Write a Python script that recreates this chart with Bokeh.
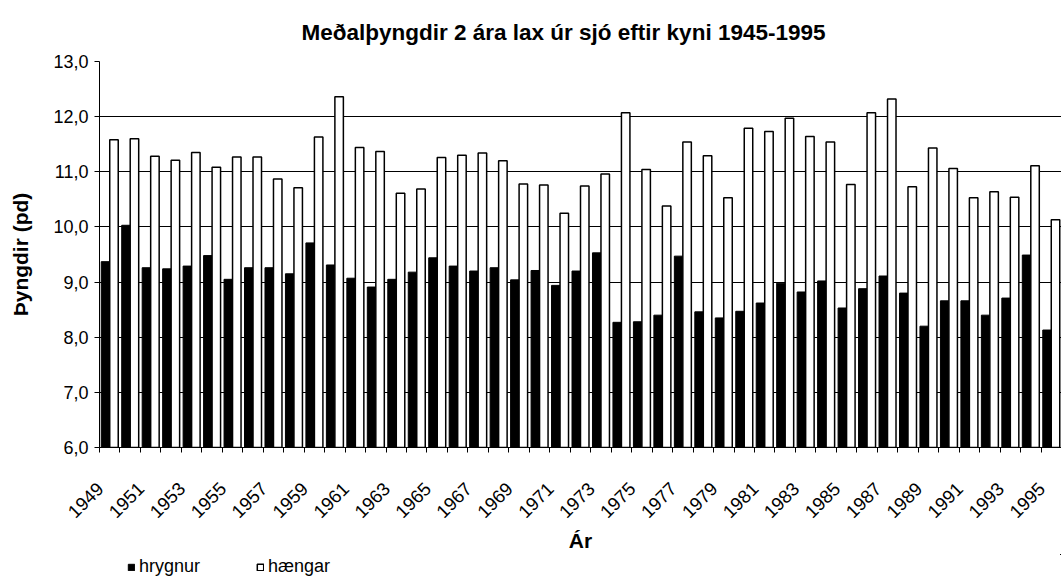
from bokeh.plotting import figure
from bokeh.layouts import column
from bokeh.models import (ColumnDataSource, FixedTicker, CustomJSTickFormatter, Legend,
                          LegendItem, Range1d, Title)
from bokeh.transform import dodge
from bokeh.embed import file_html
from bokeh.resources import INLINE

years = list(range(1949, 1996))
hrygnur = [9.37, 10.03, 9.26, 9.24, 9.29, 9.48, 9.05, 9.26, 9.26, 9.15, 9.71, 9.31,
           9.07, 8.91, 9.05, 9.18, 9.44, 9.29, 9.20, 9.26, 9.04, 9.21, 8.94, 9.20,
           9.53, 8.27, 8.28, 8.40, 9.47, 8.46, 8.35, 8.47, 8.62, 8.98, 8.82, 9.02,
           8.53, 8.88, 9.11, 8.80, 8.20, 8.66, 8.66, 8.40, 8.71, 9.49, 8.13]
haengar = [11.58, 11.60, 11.28, 11.21, 11.35, 11.08, 11.27, 11.27, 10.87, 10.71, 11.63, 12.36,
           11.44, 11.37, 10.61, 10.69, 11.26, 11.30, 11.34, 11.20, 10.78, 10.76, 10.25, 10.74,
           10.96, 12.07, 11.04, 10.38, 11.54, 11.29, 10.53, 11.79, 11.73, 11.97, 11.64, 11.54,
           10.77, 12.07, 12.32, 10.73, 11.43, 11.06, 10.53, 10.64, 10.54, 11.11, 10.13]
label_years = list(range(1949, 1996, 2))
y_ticks = [6, 7, 8, 9, 10, 11, 12, 13]
series_names = ["hrygnur", "hængar"]

FONT = "Liberation Sans"
LABEL_SHIFT = 0.47

src = ColumnDataSource(dict(year=years, hrygnur=hrygnur, haengar=haengar))

p = figure(frame_width=962, frame_height=386, output_backend="svg", toolbar_location=None,
           x_range=Range1d(years[0] - 0.5, years[-1] + 0.5), y_range=Range1d(6, 13),
           min_border_left=99, min_border_right=0, min_border_top=61, min_border_bottom=0)
p.outline_line_color = None
p.background_fill_color = "white"
p.border_fill_color = "white"

p.title = Title(text="Meðalþyngdir 2 ára lax úr sjó eftir kyni 1945-1995", align="left",
                text_font=FONT, text_font_size="22.5px", text_font_style="bold",
                text_color="black", standoff=33, offset=202)

bw = 0.415
r1 = p.vbar(x=dodge("year", -bw / 2, range=p.x_range), top="hrygnur", bottom=6, width=bw,
            source=src, fill_color="black", line_color="black", line_width=1)
r2 = p.vbar(x=dodge("year", bw / 2, range=p.x_range), top="haengar", bottom=6, width=bw,
            source=src, fill_color="white", line_color="black", line_width=1.5)

# grid
p.xgrid.grid_line_color = None
p.ygrid.grid_line_color = "black"
p.ygrid.grid_line_width = 1
p.ygrid.ticker = FixedTicker(ticks=y_ticks)
p.ygrid.level = "underlay"

# y axis
p.yaxis.ticker = FixedTicker(ticks=y_ticks)
p.yaxis.formatter = CustomJSTickFormatter(code="return tick.toFixed(1).replace('.', ',');")
p.yaxis.axis_label = "Þyngdir (pd)"
p.yaxis.axis_label_text_font = FONT
p.yaxis.axis_label_text_font_size = "21px"
p.yaxis.axis_label_text_font_style = "bold"
p.yaxis.axis_label_text_color = "black"
p.yaxis.axis_label_standoff = 18
p.yaxis.major_label_text_font = FONT
p.yaxis.major_label_text_font_size = "18px"
p.yaxis.major_label_text_color = "black"
p.yaxis.axis_line_color = "black"
p.yaxis.major_tick_line_color = "black"
p.yaxis.major_tick_out = 5
p.yaxis.major_tick_in = 0
p.yaxis.minor_tick_line_color = None
p.yaxis.major_label_standoff = 6

# x axis: labels every other year, tick marks between categories
p.xaxis.ticker = FixedTicker(ticks=[y - LABEL_SHIFT for y in label_years],
                             minor_ticks=[y - 0.5 for y in years] + [years[-1] + 0.5])
p.xaxis.formatter = CustomJSTickFormatter(
    code="return Math.round(tick + %s).toString();" % LABEL_SHIFT)
p.xaxis.major_label_orientation = 0.785398
p.xaxis.major_label_text_font = FONT
p.xaxis.major_label_text_font_size = "18.5px"
p.xaxis.major_label_text_color = "black"
p.xaxis.major_tick_out = 0
p.xaxis.major_tick_in = 0
p.xaxis.minor_tick_out = 5
p.xaxis.minor_tick_in = 0
p.xaxis.minor_tick_line_color = "black"
p.xaxis.axis_line_color = "black"
p.xaxis.major_label_standoff = 33
p.xaxis.axis_label = "Ár"
p.xaxis.axis_label_text_font = FONT
p.xaxis.axis_label_text_font_size = "21px"
p.xaxis.axis_label_text_font_style = "bold"
p.xaxis.axis_label_text_color = "black"
p.xaxis.axis_label_standoff = 2

# legend strip below the chart (same styling as the bars; its bars lie outside its view)
lg = figure(width=1061, height=26, output_backend="svg", toolbar_location=None,
            x_axis_type=None, y_axis_type=None, x_range=Range1d(0, 1), y_range=Range1d(0, 1),
            min_border=0)
lg.outline_line_color = None
lg.xgrid.grid_line_color = None
lg.ygrid.grid_line_color = None
lg1 = lg.vbar(x="year", top="hrygnur", bottom=6, width=bw, source=src,
              fill_color="black", line_color="black", line_width=1)
lg2 = lg.vbar(x="year", top="haengar", bottom=6, width=bw, source=src,
              fill_color="white", line_color="black", line_width=1.5)
legend = Legend(items=[LegendItem(label=series_names[0], renderers=[lg1]),
                       LegendItem(label=series_names[1], renderers=[lg2])],
                orientation="horizontal", location=(28, 3),
                border_line_color=None, background_fill_alpha=0,
                glyph_width=8, glyph_height=8, label_standoff=4, spacing=56,
                padding=0, margin=0,
                label_text_font=FONT, label_text_font_size="18px", label_text_color="black")
lg.add_layout(legend, "center")

layout = column(p, lg, spacing=0)
open("out.html", "w").write(file_html(layout, INLINE))
